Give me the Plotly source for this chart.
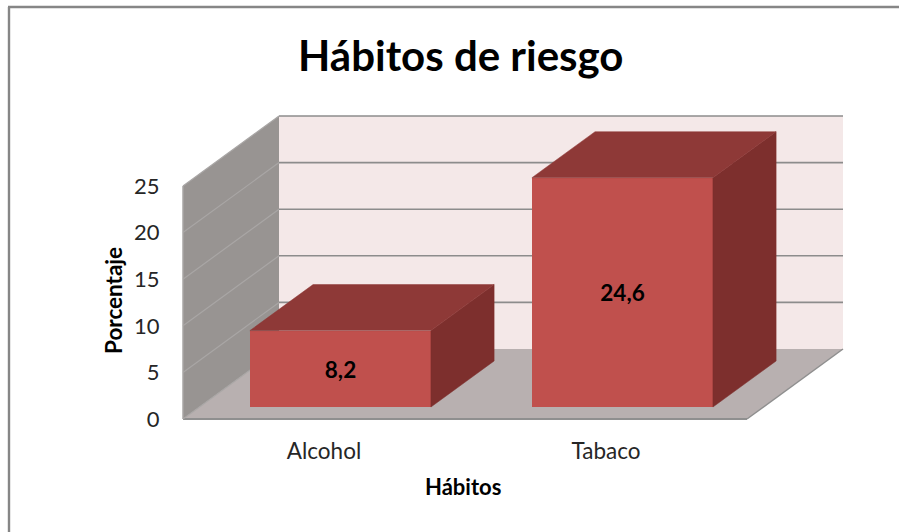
import plotly.graph_objects as go

categorias = ["Alcohol", "Tabaco"]
valores = [8.2, 24.6]
etiquetas = ["8,2", "24,6"]
y_ticks = [0, 5, 10, 15, 20, 25]
titulo = "Hábitos de riesgo"
titulo_x = "Hábitos"
titulo_y = "Porcentaje"

W, H = 899, 532
FONT = "Lato"
INK = "#262626"

# scale of the oblique projection
PX_X, PX_Y = 282.0, 9.32     # pixels per category / per percentage point
X0_PX, Y0_PX = 183.0, 419.0  # pixel position of the origin
DX, DY = 96 / PX_X, 70 / PX_Y  # full floor depth in data units
Z0, Z1 = 0.171, 0.829        # bar start/end along the depth
BAR_W = 0.642
Y_MAX = 25

L, R, T, B = 178, 853, 105, 428


def proj(x, y, z):
    return x + z * DX, y + z * DY


def poly(points, color):
    xs = [p[0] for p in points] + [points[0][0]]
    ys = [p[1] for p in points] + [points[0][1]]
    return go.Scatter(x=xs, y=ys, mode="lines", fill="toself", fillcolor=color,
                      line=dict(color=color, width=0.5), hoverinfo="skip", showlegend=False)


def shape_poly(points, color, edge=None, width=0):
    path = "M" + " L".join(f"{x},{y}" for x, y in points) + " Z"
    return dict(type="path", path=path, xref="x", yref="y", fillcolor=color,
                line=dict(color=edge or color, width=width), layer="below")


def shape_line(a, b, color="#8c8c8c", width=1.6):
    return dict(type="line", xref="x", yref="y", x0=a[0], y0=a[1], x1=b[0], y1=b[1],
                line=dict(color=color, width=width), layer="below")


n = len(categorias)
shapes = [
    shape_poly([proj(0, 0, 1), proj(n, 0, 1), proj(n, Y_MAX, 1), proj(0, Y_MAX, 1)], "#F4E8E8"),
    shape_poly([proj(0, 0, 0), proj(0, 0, 1), proj(0, Y_MAX, 1), proj(0, Y_MAX, 0)], "#989492"),
    shape_poly([proj(0, 0, 0), proj(n, 0, 0), proj(n, 0, 1), proj(0, 0, 1)], "#B8B0B0"),
]
for t in y_ticks:
    if t > 0:
        shapes.append(shape_line(proj(0, t, 0), proj(0, t, 1), "#a9a6a5", 1.2))
        shapes.append(shape_line(proj(0, t, 1), proj(n, t, 1), "#8c8c8c", 1.6))
shapes += [
    shape_line(proj(0, 0, 0), proj(0, Y_MAX, 0), "#a9a6a5", 1.5),
    shape_line(proj(0, 0, 0), proj(n, 0, 0), "#8f8f8f", 2),
    shape_line(proj(n, 0, 0), proj(n, 0, 1), "#8f8f8f", 1.5),
    shape_line(proj(0, 0, 0), proj(0, 0, 1), "#a9a6a5", 1.2),
]


def px_x(p):
    return (p - L) / (R - L)


def px_y(p):
    return (B - p) / (B - T)


# window frame (top and left only, it runs off the picture on the other sides)
shapes += [
    dict(type="line", xref="paper", yref="paper", x0=px_x(8), x1=px_x(W), y0=px_y(7), y1=px_y(7),
         line=dict(color="#868686", width=2.4)),
    dict(type="line", xref="paper", yref="paper", x0=px_x(9), x1=px_x(9), y0=px_y(7), y1=px_y(H),
         line=dict(color="#868686", width=2.4)),
]

fig = go.Figure()

x_front = [i + 0.5 + Z0 * DX for i in range(n)]
fig.add_trace(go.Bar(
    x=x_front, y=valores, base=Z0 * DY, width=BAR_W,
    marker=dict(color="#C0504D", line=dict(width=0)),
    text=etiquetas, textposition="inside", insidetextanchor="middle", textangle=0,
    textfont=dict(family=FONT, size=22.5, color="#000000", weight="bold"),
    hoverinfo="skip", showlegend=False,
))

for i, v in enumerate(valores):
    c = i + 0.5
    a, b = c - BAR_W / 2, c + BAR_W / 2
    fig.add_trace(poly([proj(b, 0, Z0), proj(b, 0, Z1), proj(b, v, Z1), proj(b, v, Z0)], "#7D2F2D"))
    fig.add_trace(poly([proj(a, v, Z0), proj(b, v, Z0), proj(b, v, Z1), proj(a, v, Z1)], "#8E3937"))

fig.update_layout(
    width=W, height=H, autosize=False,
    margin=dict(l=L, r=W - R, t=T, b=H - B, pad=0),
    paper_bgcolor="#ffffff", plot_bgcolor="rgba(0,0,0,0)",
    showlegend=False, shapes=shapes, bargap=0,
    font=dict(family=FONT, size=22, color=INK),
    xaxis=dict(range=[(L - X0_PX) / PX_X, (R - X0_PX) / PX_X], tickmode="array",
               tickvals=[i + 0.5 for i in range(n)], ticktext=categorias,
               showgrid=False, zeroline=False, showline=False, ticks="outside",
               ticklen=3, tickcolor="rgba(0,0,0,0)", tickfont=dict(family=FONT, size=22.5, color=INK)),
    yaxis=dict(range=[(Y0_PX - B) / PX_Y, (Y0_PX - T) / PX_Y], tickmode="array",
               tickvals=y_ticks, ticktext=[str(t) for t in y_ticks],
               showgrid=False, zeroline=False, showline=False, ticks="outside",
               ticklen=13, tickcolor="rgba(0,0,0,0)", tickfont=dict(family=FONT, size=22, color=INK)),
    annotations=[
        dict(text=titulo, xref="paper", yref="paper", x=px_x(460), y=px_y(55), showarrow=False,
             xanchor="center", yanchor="middle",
             font=dict(family=FONT, size=42, color="#000000", weight="bold")),
        dict(text=titulo_x, xref="paper", yref="paper", x=px_x(463), y=px_y(487), showarrow=False,
             xanchor="center", yanchor="middle",
             font=dict(family=FONT, size=22, color="#000000", weight="bold")),
        dict(text=titulo_y, xref="paper", yref="paper", x=px_x(113), y=px_y(301), showarrow=False,
             textangle=-90, xanchor="center", yanchor="middle",
             font=dict(family=FONT, size=22.5, color="#000000", weight="bold")),
    ],
)

fig.write_html("out.html", config=dict(displayModeBar=False),
               post_script="document.body.style.margin='0';")
